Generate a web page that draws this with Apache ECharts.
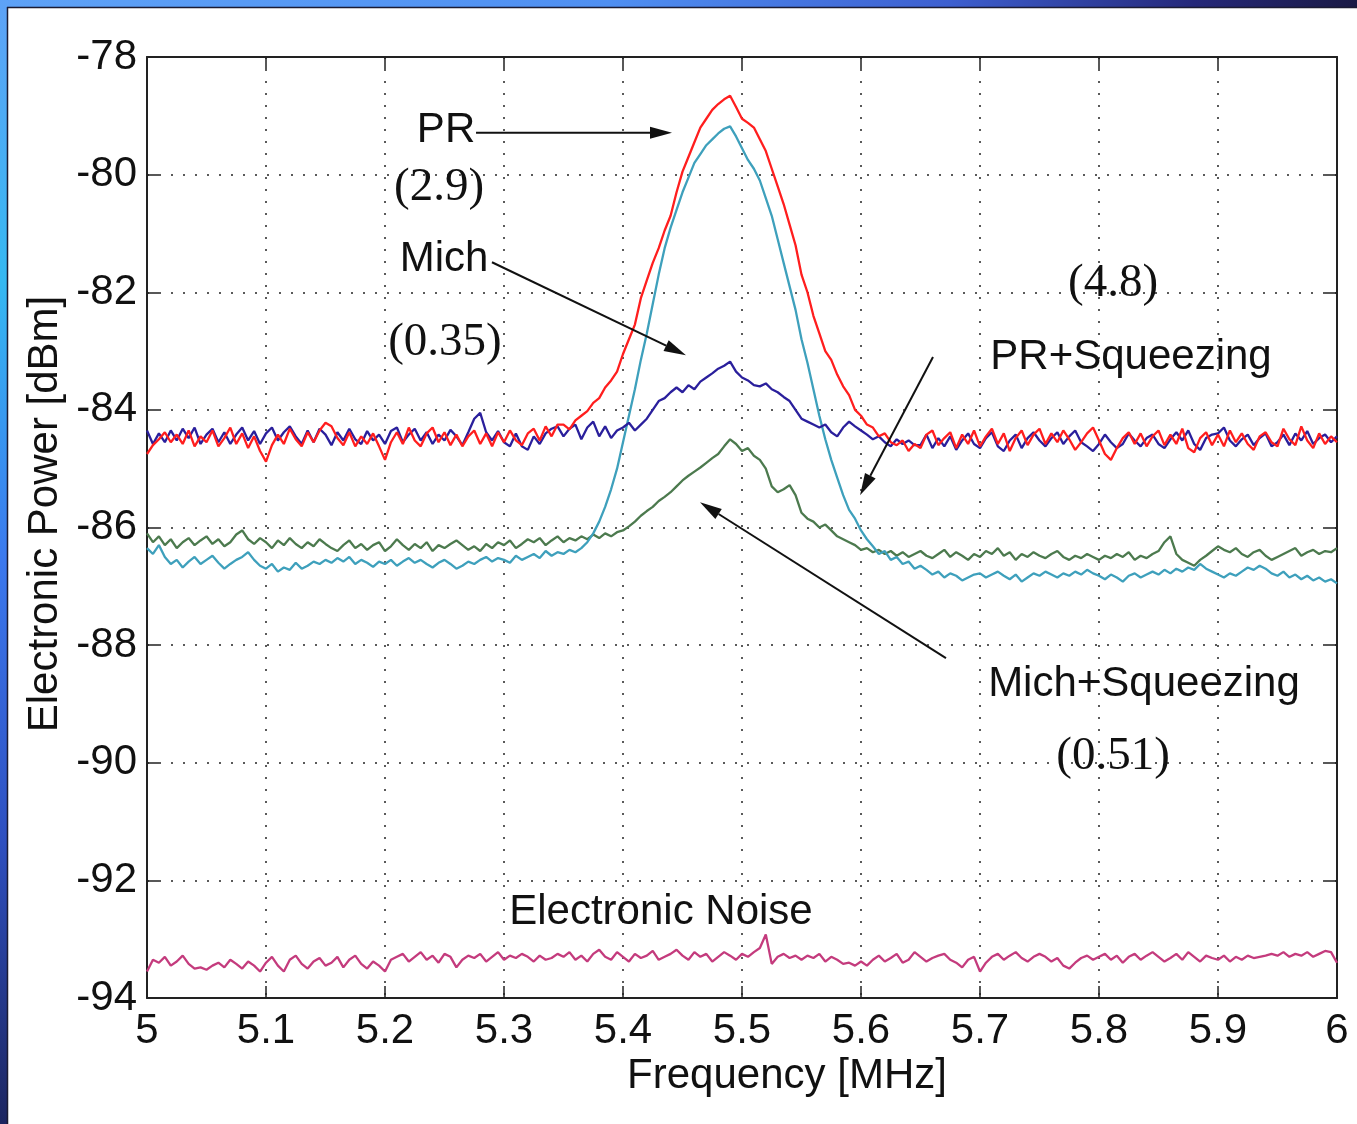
<!DOCTYPE html>
<html><head><meta charset="utf-8">
<script src="https://cdn.jsdelivr.net/npm/echarts@6/dist/echarts.min.js"></script>
<style>html,body{margin:0;padding:0;background:#fff;overflow:hidden}#c{width:1357px;height:1124px}</style>
</head><body><div id="c"></div>
<script>
// Frequency sampling grid: 5.000 .. 6.000 MHz, step 0.005 (201 samples)
const freqStart = 5.0;
const freqStep = 0.005;

const xTicks = ['5','5.1','5.2','5.3','5.4','5.5','5.6','5.7','5.8','5.9','6'];
const yTicks = ['-78','-80','-82','-84','-86','-88','-90','-92','-94'];

// PR (red)
const prValues = [
-84.75,-84.60,-84.50,-84.38,-84.55,-84.42,-84.58,-84.35,-84.62,-84.45,
-84.55,-84.35,-84.62,-84.48,-84.30,-84.58,-84.40,-84.65,-84.45,-84.70,
-84.88,-84.60,-84.42,-84.58,-84.32,-84.50,-84.62,-84.38,-84.55,-84.35,
-84.22,-84.28,-84.48,-84.60,-84.38,-84.62,-84.45,-84.58,-84.40,-84.62,
-84.85,-84.55,-84.38,-84.58,-84.30,-84.52,-84.62,-84.40,-84.30,-84.55,
-84.38,-84.60,-84.42,-84.62,-84.45,-84.35,-84.58,-84.40,-84.62,-84.38,
-84.55,-84.35,-84.52,-84.60,-84.40,-84.32,-84.52,-84.28,-84.45,-84.25,
-84.25,-84.33,-84.18,-84.10,-84.02,-83.88,-83.80,-83.62,-83.50,-83.35,
-83.05,-82.80,-82.55,-82.10,-81.80,-81.50,-81.25,-80.95,-80.70,-80.30,
-79.95,-79.70,-79.45,-79.20,-79.05,-78.90,-78.80,-78.72,-78.66,-78.85,
-79.05,-79.12,-79.20,-79.40,-79.60,-79.90,-80.20,-80.50,-80.85,-81.20,
-81.70,-82.00,-82.40,-82.70,-83.00,-83.15,-83.40,-83.60,-83.75,-84.00,
-84.10,-84.25,-84.30,-84.45,-84.40,-84.55,-84.60,-84.52,-84.70,-84.58,
-84.65,-84.42,-84.35,-84.60,-84.48,-84.38,-84.65,-84.42,-84.58,-84.35,
-84.62,-84.45,-84.32,-84.58,-84.40,-84.70,-84.48,-84.35,-84.60,-84.42,
-84.32,-84.58,-84.40,-84.55,-84.35,-84.50,-84.68,-84.55,-84.40,-84.30,
-84.52,-84.75,-84.85,-84.65,-84.48,-84.38,-84.58,-84.40,-84.62,-84.45,
-84.35,-84.60,-84.42,-84.58,-84.32,-84.65,-84.72,-84.48,-84.38,-84.60,
-84.42,-84.62,-84.35,-84.55,-84.40,-84.58,-84.68,-84.45,-84.38,-84.55,
-84.62,-84.32,-84.50,-84.60,-84.28,-84.52,-84.65,-84.40,-84.58,-84.45,
-84.55];

// PR+Squeezing (cyan)
const prSqzValues = [
-86.35,-86.45,-86.30,-86.50,-86.62,-86.55,-86.68,-86.58,-86.50,-86.62,
-86.55,-86.48,-86.60,-86.70,-86.62,-86.55,-86.50,-86.42,-86.55,-86.65,
-86.70,-86.62,-86.75,-86.68,-86.72,-86.60,-86.70,-86.65,-86.58,-86.62,
-86.55,-86.60,-86.52,-86.58,-86.50,-86.62,-86.55,-86.60,-86.67,-86.58,
-86.62,-86.55,-86.65,-86.58,-86.52,-86.60,-86.55,-86.62,-86.68,-86.60,
-86.55,-86.62,-86.70,-86.65,-86.58,-86.62,-86.55,-86.50,-86.58,-86.52,
-86.55,-86.60,-86.48,-86.55,-86.50,-86.45,-86.52,-86.40,-86.48,-86.42,
-86.45,-86.38,-86.42,-86.35,-86.25,-86.10,-85.90,-85.65,-85.35,-85.00,
-84.55,-84.10,-83.65,-83.15,-82.70,-82.20,-81.70,-81.25,-80.90,-80.60,
-80.30,-80.05,-79.80,-79.65,-79.50,-79.40,-79.30,-79.22,-79.18,-79.35,
-79.55,-79.75,-79.90,-80.10,-80.40,-80.70,-81.10,-81.50,-81.90,-82.30,
-82.80,-83.20,-83.65,-84.10,-84.50,-84.85,-85.15,-85.45,-85.70,-85.85,
-86.05,-86.20,-86.32,-86.45,-86.40,-86.55,-86.50,-86.62,-86.58,-86.70,
-86.65,-86.72,-86.80,-86.75,-86.85,-86.78,-86.82,-86.90,-86.85,-86.80,
-86.78,-86.85,-86.80,-86.75,-86.82,-86.88,-86.80,-86.92,-86.85,-86.78,
-86.82,-86.75,-86.80,-86.85,-86.78,-86.82,-86.75,-86.80,-86.72,-86.78,
-86.82,-86.88,-86.80,-86.85,-86.92,-86.82,-86.78,-86.85,-86.80,-86.75,
-86.80,-86.72,-86.78,-86.70,-86.75,-86.68,-86.72,-86.62,-86.70,-86.75,
-86.80,-86.85,-86.78,-86.82,-86.75,-86.68,-86.72,-86.65,-86.70,-86.78,
-86.82,-86.75,-86.85,-86.80,-86.88,-86.82,-86.90,-86.85,-86.92,-86.88,
-86.95];

// Mich (blue)
const michValues = [
-84.35,-84.58,-84.40,-84.55,-84.35,-84.52,-84.32,-84.48,-84.30,-84.58,
-84.42,-84.32,-84.55,-84.38,-84.58,-84.42,-84.30,-84.52,-84.36,-84.58,
-84.40,-84.30,-84.52,-84.38,-84.28,-84.45,-84.58,-84.35,-84.55,-84.32,
-84.42,-84.60,-84.38,-84.52,-84.32,-84.50,-84.58,-84.36,-84.52,-84.42,
-84.58,-84.36,-84.30,-84.55,-84.42,-84.32,-84.52,-84.38,-84.58,-84.42,
-84.52,-84.34,-84.45,-84.60,-84.38,-84.15,-84.05,-84.38,-84.52,-84.36,
-84.55,-84.62,-84.40,-84.62,-84.68,-84.45,-84.58,-84.40,-84.32,-84.28,
-84.45,-84.32,-84.25,-84.50,-84.30,-84.20,-84.45,-84.28,-84.48,-84.35,
-84.30,-84.22,-84.35,-84.25,-84.15,-84.00,-83.85,-83.80,-83.70,-83.62,
-83.70,-83.58,-83.65,-83.52,-83.45,-83.38,-83.30,-83.25,-83.18,-83.35,
-83.45,-83.50,-83.58,-83.60,-83.55,-83.65,-83.70,-83.78,-83.85,-84.00,
-84.15,-84.20,-84.25,-84.30,-84.25,-84.38,-84.45,-84.30,-84.20,-84.28,
-84.35,-84.42,-84.50,-84.45,-84.55,-84.62,-84.50,-84.58,-84.52,-84.60,
-84.60,-84.42,-84.65,-84.48,-84.62,-84.45,-84.68,-84.52,-84.40,-84.58,
-84.65,-84.48,-84.38,-84.62,-84.70,-84.52,-84.42,-84.65,-84.48,-84.38,
-84.52,-84.62,-84.48,-84.38,-84.58,-84.45,-84.35,-84.55,-84.62,-84.70,
-84.58,-84.42,-84.55,-84.65,-84.58,-84.40,-84.52,-84.62,-84.48,-84.42,
-84.58,-84.65,-84.50,-84.38,-84.52,-84.35,-84.58,-84.68,-84.48,-84.42,
-84.40,-84.30,-84.52,-84.62,-84.50,-84.42,-84.60,-84.48,-84.40,-84.62,
-84.55,-84.42,-84.60,-84.40,-84.52,-84.36,-84.58,-84.48,-84.42,-84.55,
-84.45];

// Mich+Squeezing (green)
const michSqzValues = [
-86.10,-86.25,-86.15,-86.30,-86.20,-86.35,-86.25,-86.18,-86.30,-86.22,
-86.15,-86.28,-86.20,-86.32,-86.25,-86.12,-86.05,-86.20,-86.28,-86.18,
-86.25,-86.35,-86.22,-86.30,-86.18,-86.28,-86.35,-86.25,-86.32,-86.20,
-86.28,-86.35,-86.40,-86.30,-86.22,-86.35,-86.28,-86.38,-86.30,-86.25,
-86.40,-86.32,-86.20,-86.30,-86.38,-86.28,-86.35,-86.25,-86.40,-86.30,
-86.35,-86.28,-86.22,-86.30,-86.38,-86.32,-86.40,-86.28,-86.35,-86.25,
-86.30,-86.22,-86.35,-86.28,-86.20,-86.25,-86.18,-86.30,-86.22,-86.15,
-86.25,-86.18,-86.22,-86.15,-86.20,-86.12,-86.18,-86.10,-86.15,-86.08,
-86.05,-85.98,-85.90,-85.80,-85.72,-85.65,-85.55,-85.48,-85.40,-85.30,
-85.20,-85.12,-85.05,-84.98,-84.90,-84.82,-84.75,-84.62,-84.50,-84.58,
-84.70,-84.65,-84.78,-84.85,-85.00,-85.30,-85.40,-85.35,-85.28,-85.45,
-85.75,-85.85,-85.90,-86.00,-85.95,-86.05,-86.15,-86.20,-86.25,-86.30,
-86.38,-86.35,-86.42,-86.38,-86.45,-86.40,-86.48,-86.42,-86.50,-86.45,
-86.40,-86.48,-86.52,-86.45,-86.38,-86.50,-86.42,-86.48,-86.55,-86.45,
-86.50,-86.40,-86.45,-86.35,-86.48,-86.42,-86.55,-86.45,-86.50,-86.42,
-86.48,-86.52,-86.45,-86.40,-86.50,-86.55,-86.48,-86.52,-86.45,-86.50,
-86.55,-86.48,-86.52,-86.45,-86.50,-86.42,-86.55,-86.48,-86.52,-86.45,
-86.40,-86.25,-86.15,-86.45,-86.55,-86.60,-86.65,-86.55,-86.48,-86.40,
-86.32,-86.38,-86.42,-86.35,-86.45,-86.50,-86.42,-86.38,-86.48,-86.55,
-86.50,-86.45,-86.40,-86.35,-86.48,-86.42,-86.38,-86.45,-86.40,-86.42,
-86.35];

// Electronic Noise (magenta)
const noiseValues = [
-93.55,-93.35,-93.40,-93.30,-93.45,-93.38,-93.28,-93.42,-93.50,-93.48,
-93.52,-93.45,-93.40,-93.48,-93.35,-93.42,-93.50,-93.38,-93.45,-93.55,
-93.40,-93.30,-93.45,-93.55,-93.35,-93.28,-93.42,-93.50,-93.38,-93.32,
-93.45,-93.40,-93.30,-93.48,-93.35,-93.28,-93.42,-93.50,-93.38,-93.45,
-93.55,-93.35,-93.30,-93.25,-93.38,-93.30,-93.22,-93.35,-93.28,-93.40,
-93.25,-93.30,-93.48,-93.35,-93.28,-93.32,-93.25,-93.38,-93.30,-93.22,
-93.35,-93.28,-93.32,-93.25,-93.30,-93.38,-93.28,-93.35,-93.32,-93.25,
-93.30,-93.22,-93.35,-93.28,-93.38,-93.25,-93.18,-93.30,-93.35,-93.22,
-93.30,-93.38,-93.25,-93.32,-93.28,-93.20,-93.35,-93.30,-93.25,-93.18,
-93.28,-93.35,-93.22,-93.30,-93.25,-93.38,-93.30,-93.22,-93.28,-93.35,
-93.25,-93.30,-93.22,-93.15,-92.92,-93.42,-93.30,-93.25,-93.32,-93.28,
-93.35,-93.28,-93.32,-93.25,-93.38,-93.30,-93.35,-93.42,-93.40,-93.45,
-93.38,-93.45,-93.35,-93.28,-93.38,-93.32,-93.25,-93.40,-93.35,-93.22,
-93.30,-93.38,-93.32,-93.28,-93.25,-93.35,-93.40,-93.48,-93.35,-93.30,
-93.55,-93.40,-93.30,-93.25,-93.35,-93.28,-93.22,-93.32,-93.38,-93.30,
-93.25,-93.30,-93.38,-93.32,-93.45,-93.50,-93.40,-93.32,-93.28,-93.35,
-93.30,-93.25,-93.35,-93.28,-93.40,-93.30,-93.25,-93.35,-93.28,-93.22,
-93.30,-93.38,-93.32,-93.25,-93.35,-93.22,-93.30,-93.38,-93.28,-93.32,
-93.35,-93.28,-93.38,-93.30,-93.35,-93.28,-93.32,-93.30,-93.28,-93.25,
-93.28,-93.22,-93.30,-93.25,-93.28,-93.22,-93.30,-93.25,-93.20,-93.22,
-93.40];

// Annotation anchor points in data coordinates [freq MHz, dBm]
const labelTexts = [
  {text:'PR', at:[5.2513,-79.24], serif:false},
  {text:'(2.9)', at:[5.2454,-80.23], serif:true},
  {text:'Mich', at:[5.2496,-81.45], serif:false},
  {text:'(0.35)', at:[5.2504,-82.85], serif:true},
  {text:'(4.8)', at:[5.8118,-81.86], serif:true},
  {text:'PR+Squeezing', at:[5.8269,-83.10], serif:false},
  {text:'Mich+Squeezing', at:[5.8378,-88.66], serif:false},
  {text:'(0.51)', at:[5.8118,-89.90], serif:true},
  {text:'Electronic Noise', at:[5.4319,-92.54], serif:false}
];
const arrows = [
  {from:[5.2765,-79.29], to:[5.4412,-79.29]},
  {from:[5.2899,-81.49], to:[5.4529,-83.07]},
  {from:[5.6605,-83.10], to:[5.5992,-85.45]},
  {from:[5.6714,-88.22], to:[5.4647,-85.57]}
];

const mk = arr => arr.map((v, i) => [+(freqStart + i * freqStep).toFixed(3), v]);

const SANS = '"Liberation Sans", Arial, Helvetica, sans-serif';
const SERIF = '"Liberation Serif", "Times New Roman", serif';

const chart = echarts.init(document.getElementById('c'), null, {renderer: 'canvas'});

const tickStyle = {inside: true, length: 12, lineStyle: {color: '#222', width: 1.5}};
const lineAx = {show: true, lineStyle: {color: '#222', width: 2}};
const split = {show: true, lineStyle: {color: '#5a5a5a', type: [2, 10], width: 2}};

const series = [
  {name: 'Electronic Noise', data: mk(noiseValues), color: '#c43b7d'},
  {name: 'Mich+Squeezing', data: mk(michSqzValues), color: '#4c7a4e'},
  {name: 'PR+Squeezing', data: mk(prSqzValues), color: '#3ea0bc'},
  {name: 'Mich', data: mk(michValues), color: '#2a1f9c'},
  {name: 'PR', data: mk(prValues), color: '#ff1e1e'}
].map(s => ({
  type: 'line', name: s.name, data: s.data, showSymbol: false, symbol: 'none',
  lineStyle: {color: s.color, width: 2.3}, itemStyle: {color: s.color},
  xAxisIndex: 0, yAxisIndex: 0, silent: true
}));

chart.setOption({
  animation: false,
  backgroundColor: '#ffffff',
  grid: {left: 147, top: 57, width: 1190, height: 941},
  xAxis: [
    {type: 'value', min: 5, max: 6, interval: 0.1, position: 'bottom',
     axisLine: lineAx, axisTick: tickStyle, splitLine: split,
     axisLabel: {color: '#111', fontFamily: SANS, fontSize: 42, margin: 12,
       formatter: v => xTicks[Math.round((v - 5) * 10)] ?? ''}},
    {type: 'value', min: 5, max: 6, interval: 0.1, position: 'top',
     axisLine: lineAx, axisTick: tickStyle, splitLine: {show: false}, axisLabel: {show: false}}
  ],
  yAxis: [
    {type: 'value', min: -94, max: -78, interval: 2, position: 'left',
     axisLine: lineAx, axisTick: tickStyle, splitLine: split,
     axisLabel: {color: '#111', fontFamily: SANS, fontSize: 42, margin: 10,
       formatter: v => yTicks[Math.round((-78 - v) / 2)] ?? ''}},
    {type: 'value', min: -94, max: -78, interval: 2, position: 'right',
     axisLine: lineAx, axisTick: tickStyle, splitLine: {show: false}, axisLabel: {show: false}}
  ],
  series: series
});

function buildGraphics() {
  const g = [];
  // frame
  g.push({type: 'rect', shape: {x: 0, y: 0, width: 1357, height: 7}, silent: true,
    style: {fill: new echarts.graphic.LinearGradient(0, 0, 1, 0, [
      {offset: 0, color: '#5ea2f7'}, {offset: 0.45, color: '#4f8ff2'},
      {offset: 0.7, color: '#3d5fd0'}, {offset: 0.88, color: '#25287a'}, {offset: 1, color: '#1a1a45'}])}});
  g.push({type: 'rect', shape: {x: 0, y: 0, width: 7, height: 1124}, silent: true,
    style: {fill: new echarts.graphic.LinearGradient(0, 0, 0, 1, [
      {offset: 0, color: '#5ea2f7'}, {offset: 0.25, color: '#35b8f2'},
      {offset: 0.5, color: '#3b78ee'}, {offset: 0.75, color: '#2e4fc0'}, {offset: 1, color: '#1c2560'}])}});
  g.push({type: 'line', shape: {x1: 7, y1: 7.5, x2: 1357, y2: 7.5}, silent: true, style: {stroke: '#1b1b33', lineWidth: 1.5}});
  g.push({type: 'line', shape: {x1: 7.5, y1: 7, x2: 7.5, y2: 1124}, silent: true, style: {stroke: '#1b1b33', lineWidth: 1.5}});

  // axis titles
  g.push({type: 'text', x: 787, y: 1076, silent: true,
    style: {text: 'Frequency [MHz]', font: '42px ' + SANS, fill: '#111', align: 'center', verticalAlign: 'middle'}});
  g.push({type: 'text', x: 45, y: 514, rotation: Math.PI / 2, silent: true,
    style: {text: 'Electronic Power [dBm]', font: '42px ' + SANS, fill: '#111', align: 'center', verticalAlign: 'middle'}});

  // annotation labels
  labelTexts.forEach(t => {
    const p = chart.convertToPixel({gridIndex: 0}, t.at);
    g.push({type: 'text', x: p[0], y: p[1], silent: true, z: 100,
      style: {text: t.text, font: (t.serif ? '47px ' + SERIF : '42px ' + SANS), fill: '#111',
        align: 'center', verticalAlign: 'middle'}});
  });
  // arrows
  arrows.forEach(a => {
    const p0 = chart.convertToPixel({gridIndex: 0}, a.from);
    const p1 = chart.convertToPixel({gridIndex: 0}, a.to);
    const dx = p1[0] - p0[0], dy = p1[1] - p0[1];
    const L = Math.hypot(dx, dy), ux = dx / L, uy = dy / L;
    const hl = 22, hw = 6;
    const bx = p1[0] - ux * hl, by = p1[1] - uy * hl;
    g.push({type: 'line', silent: true, z: 100,
      shape: {x1: p0[0], y1: p0[1], x2: bx, y2: by}, style: {stroke: '#111', lineWidth: 2}});
    g.push({type: 'polygon', silent: true, z: 100,
      shape: {points: [[p1[0], p1[1]], [bx - uy * hw, by + ux * hw], [bx + uy * hw, by - ux * hw]]},
      style: {fill: '#111'}});
  });
  return g;
}
chart.setOption({graphic: buildGraphics()});
</script></body></html>
